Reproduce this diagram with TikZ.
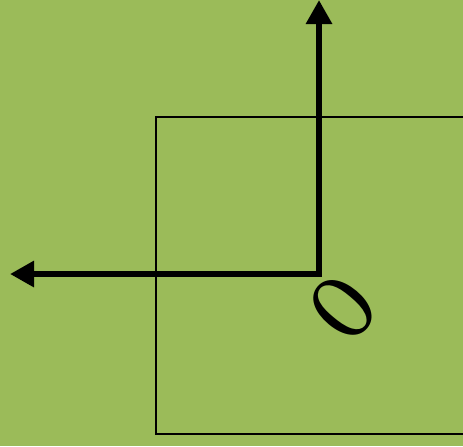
\documentclass[tikz,border=0pt]{standalone}
\usetikzlibrary{arrows.meta}
\definecolor{olivebg}{HTML}{9BBB59}
\begin{document}
\begin{tikzpicture}
  \tikzstyle{axis}=[line width=1.9pt,{Triangle[length=2.4mm,width=2.5mm]}-{Triangle[length=2.4mm,width=2.5mm]}]
  \tikzstyle{frame}=[draw,line width=0.6pt]
  \fill[olivebg] (0,0) rectangle (4.63,4.46);
  \useasboundingbox (0,0) rectangle (4.63,4.46);
  \node[frame,inner sep=0pt,minimum width=3.08cm,minimum height=3.17cm,anchor=south west] (box) at (1.55,0.11) {};
  \coordinate (o) at (3.19,1.72);
  \coordinate (xtip) at (0.10,1.72);
  \coordinate (ytip) at (3.19,4.46);
  \draw[axis] (xtip) -- (o) -- (ytip);
  \node[rotate=50,inner sep=0pt] (lbl) at (3.43,1.38) {\scalebox{0.66}[1]{\fontsize{26}{26}\selectfont\bfseries O}};
\end{tikzpicture}
\end{document}
